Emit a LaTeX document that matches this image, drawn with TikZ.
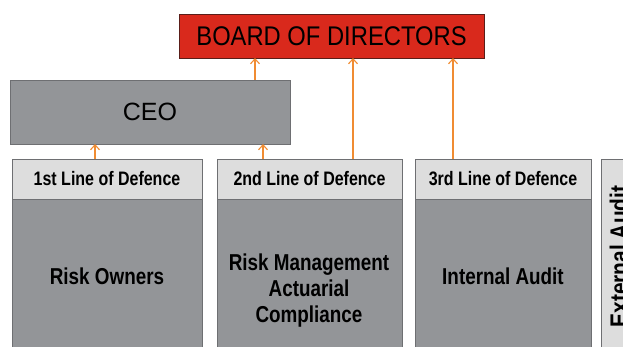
\documentclass[tikz,border=0pt]{standalone}
\usepackage{fontspec}
\setmainfont{Liberation Sans}
\newfontfamily\narrowfont[FakeStretch=0.82]{Liberation Sans}
\newfontfamily\boardfont[FakeStretch=0.88]{Liberation Sans}
\usetikzlibrary{arrows.meta}
\definecolor{bred}{RGB}{217,41,28}
\definecolor{bredline}{RGB}{90,30,25}
\definecolor{bgray}{RGB}{147,149,152}
\definecolor{hgray}{RGB}{221,221,221}
\definecolor{edgegray}{RGB}{110,111,114}
\definecolor{arrorange}{RGB}{240,140,50}
\tikzset{
  x=1pt, y=-1pt,
  box/.style={draw=edgegray, line width=0.9pt, inner sep=0pt, outer sep=0pt, anchor=north west},
  board/.style={box, draw=bredline, fill=bred, minimum width=305pt, minimum height=44pt, font=\boardfont\fontsize{27}{30}\selectfont},
  ceobox/.style={box, fill=bgray, minimum width=280pt, minimum height=64pt, font=\fontsize{25}{28}\selectfont},
  headbox/.style={box, fill=hgray, minimum height=40pt, font=\narrowfont\bfseries\fontsize{19.5}{22}\selectfont},
  bodybox/.style={box, fill=bgray, minimum height=160pt},
  bodytext/.style={inner sep=0pt, align=center, font=\narrowfont\bfseries\fontsize{23}{26}\selectfont},
  arr/.style={draw=arrorange, line width=1.1pt, -{Straight Barb[length=5pt,width=9pt,line width=1.1pt]}}
}
\begin{document}
\begin{tikzpicture}
\useasboundingbox (0,0) rectangle (623,347);
% boxes
\node[board] (board) at (179,14) {BOARD OF DIRECTORS};
\node[ceobox] (ceo) at (10,80) {CEO};
\node[bodybox, minimum width=190pt] (b1) at (12,199) {};
\node[bodybox, minimum width=185pt] (b2) at (217,199) {};
\node[bodybox, minimum width=176pt] (b3) at (415,199) {};
\node[headbox, minimum width=190pt] (h1) at (12,159) {1st Line of Defence};
\node[headbox, minimum width=185pt] (h2) at (217,159) {2nd Line of Defence};
\node[headbox, minimum width=176pt] (h3) at (415,159) {3rd Line of Defence};
\node[box, fill=hgray, minimum width=40pt, minimum height=212pt] (ext) at (601,159) {};
% texts
\node[bodytext] (t1) at (107,276) {Risk Owners};
\node[bodytext] (t2) at (309,291) {Risk Management\\Actuarial\\Compliance};
\node[bodytext] (t3) at (503,276) {Internal Audit};
\node[bodytext, font=\narrowfont\bfseries\fontsize{25.5}{28}\selectfont, rotate=90] (t4) at (619,256.5) {External Audit};
% arrows
\coordinate (xa) at (95,0);
\coordinate (xb) at (263,0);
\coordinate (xc) at (255,0);
\coordinate (xd) at (353,0);
\coordinate (xe) at (453,0);
\draw[arr] (h1.north -| xa) -- (ceo.south -| xa);
\draw[arr] (h2.north -| xb) -- (ceo.south -| xb);
\draw[arr] (ceo.north -| xc) -- (board.south -| xc);
\draw[arr] (h2.north -| xd) -- (board.south -| xd);
\draw[arr] (h3.north -| xe) -- (board.south -| xe);
\end{tikzpicture}
\end{document}
